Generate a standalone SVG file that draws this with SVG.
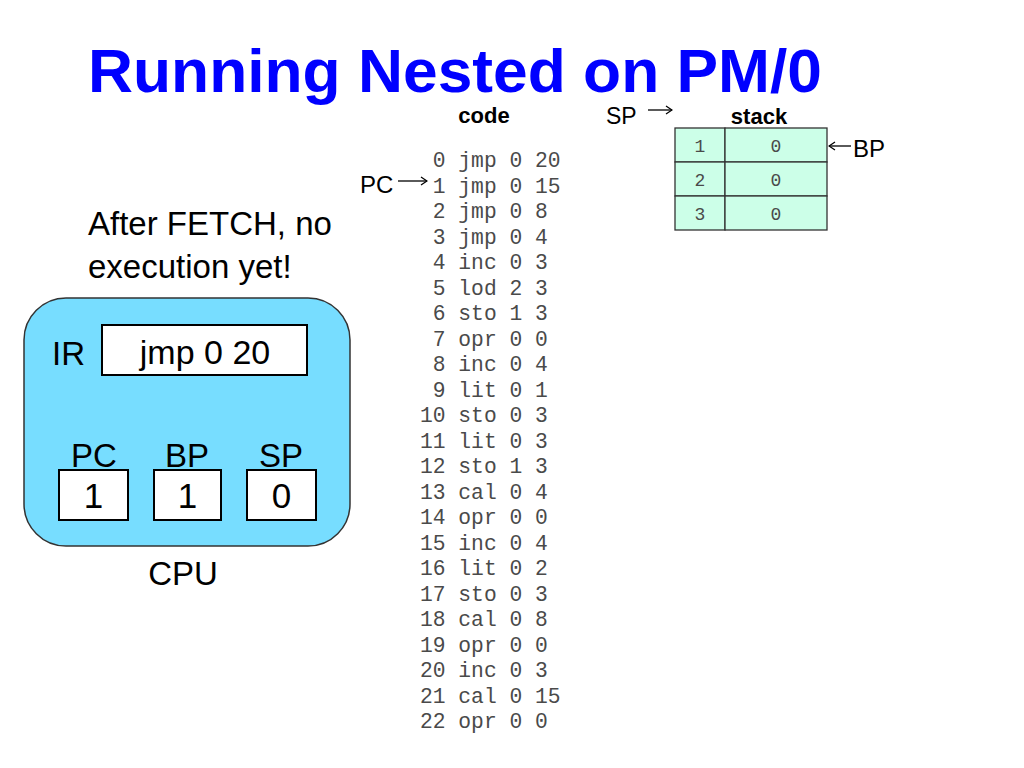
<svg xmlns="http://www.w3.org/2000/svg" width="1024" height="768" viewBox="0 0 1024 768">
<style>
.sans{font-family:"Liberation Sans",Arial,sans-serif;fill:#000}
.mono{font-family:"Liberation Mono","Courier New",monospace;fill:#4a4a4a;font-size:21.3px;white-space:pre}
.smono{font-family:"Liberation Mono","Courier New",monospace;fill:#4a4a4a;font-size:18px;text-anchor:middle}
.box{fill:#fff;stroke:#000;stroke-width:2}
.cell{fill:#ccffe8;stroke:#333;stroke-width:1.3}
.ptr{stroke:#000;stroke-width:1.3;fill:none}
</style>
<defs>
<marker id="ah" viewBox="0 0 10 10" refX="9" refY="5" markerWidth="10" markerHeight="10" orient="auto" markerUnits="userSpaceOnUse">
<path d="M3,1 L9,5 L3,9" fill="none" stroke="#000" stroke-width="1.3"/>
</marker>
</defs>
<rect width="1024" height="768" fill="#fff"/>
<text x="88" y="92" font-family="Liberation Sans,Arial,sans-serif" font-weight="bold" font-size="62" fill="#0000ff" textLength="734" lengthAdjust="spacingAndGlyphs">Running Nested on PM/0</text>

<g id="note">
<text class="sans" x="88" y="235" font-size="33">After FETCH, no</text>
<text class="sans" x="88" y="278" font-size="33">execution yet!</text>
</g>

<g id="cpu">
<rect x="24" y="298" width="326" height="248" rx="42" ry="42" fill="#77ddff" stroke="#333" stroke-width="1.5"/>
<text class="sans" x="52" y="365" font-size="33">IR</text>
<rect class="box" x="102" y="325" width="205" height="50"/>
<text class="sans" x="205" y="364" font-size="34" text-anchor="middle">jmp 0 20</text>
<text class="sans" x="94" y="467" font-size="33" text-anchor="middle">PC</text>
<text class="sans" x="187" y="467" font-size="33" text-anchor="middle">BP</text>
<text class="sans" x="281" y="467" font-size="33" text-anchor="middle">SP</text>
<rect class="box" x="59" y="470" width="69" height="50"/>
<rect class="box" x="154" y="470" width="67" height="50"/>
<rect class="box" x="247" y="470" width="69" height="50"/>
<text class="sans" x="93.5" y="508" font-size="35" text-anchor="middle">1</text>
<text class="sans" x="187.5" y="508" font-size="35" text-anchor="middle">1</text>
<text class="sans" x="281.5" y="508" font-size="35" text-anchor="middle">0</text>
<text class="sans" x="183" y="585" font-size="33" text-anchor="middle">CPU</text>
</g>

<g id="code">
<text class="sans" x="484" y="123" font-size="22" font-weight="bold" text-anchor="middle">code</text>
<text class="mono" x="420" y="167"> 0 jmp 0 20</text>
<text class="mono" x="420" y="192.5"> 1 jmp 0 15</text>
<text class="mono" x="420" y="218"> 2 jmp 0 8</text>
<text class="mono" x="420" y="243.5"> 3 jmp 0 4</text>
<text class="mono" x="420" y="269"> 4 inc 0 3</text>
<text class="mono" x="420" y="294.5"> 5 lod 2 3</text>
<text class="mono" x="420" y="320"> 6 sto 1 3</text>
<text class="mono" x="420" y="345.5"> 7 opr 0 0</text>
<text class="mono" x="420" y="371"> 8 inc 0 4</text>
<text class="mono" x="420" y="396.5"> 9 lit 0 1</text>
<text class="mono" x="420" y="422">10 sto 0 3</text>
<text class="mono" x="420" y="447.5">11 lit 0 3</text>
<text class="mono" x="420" y="473">12 sto 1 3</text>
<text class="mono" x="420" y="498.5">13 cal 0 4</text>
<text class="mono" x="420" y="524">14 opr 0 0</text>
<text class="mono" x="420" y="549.5">15 inc 0 4</text>
<text class="mono" x="420" y="575">16 lit 0 2</text>
<text class="mono" x="420" y="600.5">17 sto 0 3</text>
<text class="mono" x="420" y="626">18 cal 0 8</text>
<text class="mono" x="420" y="651.5">19 opr 0 0</text>
<text class="mono" x="420" y="677">20 inc 0 3</text>
<text class="mono" x="420" y="702.5">21 cal 0 15</text>
<text class="mono" x="420" y="728">22 opr 0 0</text>
</g>

<g id="stack">
<text class="sans" x="759" y="124" font-size="22" font-weight="bold" text-anchor="middle">stack</text>
<rect class="cell" x="675" y="128" width="50" height="34"/>
<rect class="cell" x="725" y="128" width="102" height="34"/>
<rect class="cell" x="675" y="162" width="50" height="34"/>
<rect class="cell" x="725" y="162" width="102" height="34"/>
<rect class="cell" x="675" y="196" width="50" height="34"/>
<rect class="cell" x="725" y="196" width="102" height="34"/>
<text class="smono" x="700" y="152">1</text>
<text class="smono" x="776" y="152">0</text>
<text class="smono" x="700" y="186">2</text>
<text class="smono" x="776" y="186">0</text>
<text class="smono" x="700" y="220">3</text>
<text class="smono" x="776" y="220">0</text>
</g>

<g id="labels">
<text class="sans" x="606" y="124" font-size="23">SP</text>
<text class="sans" x="360" y="193" font-size="24">PC</text>
<text class="sans" x="853" y="157" font-size="24">BP</text>
</g>

<g id="connectors">
<line class="ptr" x1="648" y1="110" x2="672" y2="110" marker-end="url(#ah)"/>
<line class="ptr" x1="398" y1="181" x2="427" y2="181" marker-end="url(#ah)"/>
<line class="ptr" x1="851" y1="146" x2="829" y2="146" marker-end="url(#ah)"/>
</g>
</svg>
